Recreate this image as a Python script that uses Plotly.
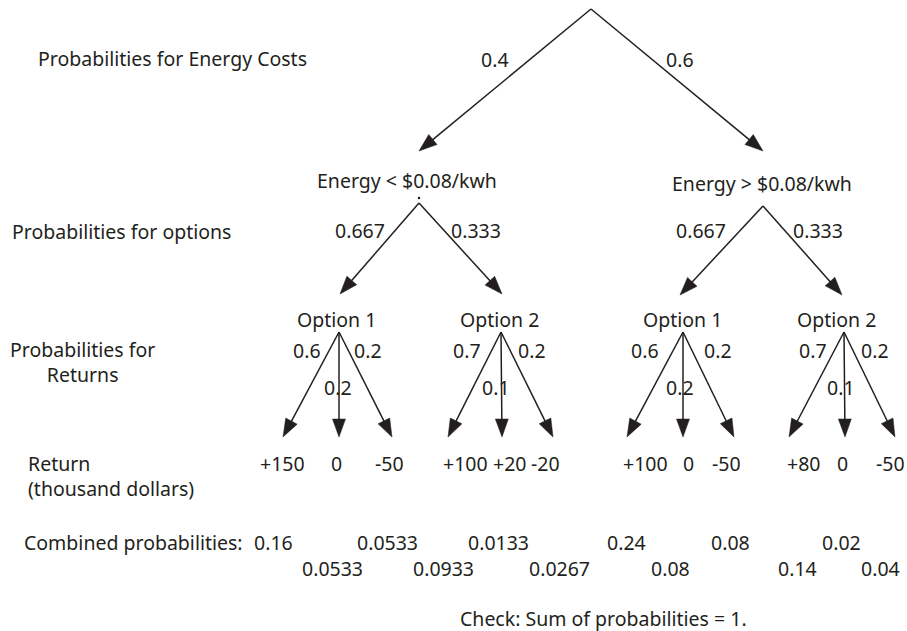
import numpy as np
import plotly.graph_objects as go

# ---------------- data ----------------
energy_labels = ["Energy < $0.08/kwh", "Energy > $0.08/kwh"]
energy_probs = ["0.4", "0.6"]
option_labels = ["Option 1", "Option 2"]
option_probs = ["0.667", "0.333"]
# per option node (left tree opt1, opt2, right tree opt1, opt2): [left, middle, right]
return_probs = [["0.6", "0.2", "0.2"], ["0.7", "0.1", "0.2"],
                ["0.6", "0.2", "0.2"], ["0.7", "0.1", "0.2"]]
returns = [["+150", "0", "-50"], ["+100", "+20", "-20"],
           ["+100", "0", "-50"], ["+80", "0", "-50"]]
combined_probs = ["0.16", "0.0533", "0.0533", "0.0933", "0.0133", "0.0267",
                  "0.24", "0.08", "0.08", "0.14", "0.02", "0.04"]
row_labels = ["Probabilities for Energy Costs", "Probabilities for options",
              "Probabilities for<br>Returns", "Return<br>(thousand dollars)",
              "Combined probabilities:"]
check_note = "Check: Sum of probabilities = 1."

# ---------------- layout (pixel space) ----------------
W, H = 907, 631
INK = "#231f20"
FONT = "Noto Sans"
FS = 19.5
LW = 1.5
HEAD_L, HEAD_W = 18.0, 13.0

ROOT = (591, 9)
L1_TIP = [(419, 151), (763, 151)]
L1_LABEL = [(407, 180), (762, 183)]
L1_PROB_POS = [(495, 59), (680, 59)]
L2_APEX = [(419, 203), (763, 206)]
L2_TIP = [[(340, 294), (502, 294)], [(680, 295), (842, 295)]]
L2_PROB_POS = [[(360, 230), (476, 230)], [(701, 230), (818, 230)]]
OPT_LABEL_POS = [(336, 319), (499, 319), (682, 319), (836, 319)]
OPT_APEX = [(339, 332), (501, 332), (683, 332), (844, 332)]
RET_TIP_X = [[283, 339, 392], [448, 502, 553], [627, 683, 734], [789, 845, 895]]
RET_TIP_Y = 437
RET_PROB_POS = [[(307, 350), (338, 387), (368, 350)],
                [(467, 350), (496, 387), (532, 350)],
                [(645, 350), (680, 387), (718, 350)],
                [(813, 350), (841, 387), (875, 350)]]
RET_LABEL_X = [[282, 336, 389], [465, 509, 545], [645, 688, 726], [803, 842, 890]]
RET_LABEL_Y = 463
COMB_X = [273, 332, 387, 443, 498, 559, 626, 670, 730, 797, 841, 880]
COMB_Y = [542, 568]
ROW_LABEL_POS = [(36, 58, "left"), (10, 231, "left"), (82, 362, "center"),
                 (26, 475.5, "left"), (22, 542, "left")]
CHECK_POS = (458, 618)

# ---------------- build edges ----------------
edges = []
for i in range(2):
    edges.append((ROOT, L1_TIP[i]))
    for j in range(2):
        edges.append((L2_APEX[i], L2_TIP[i][j]))
for k in range(4):
    for m in range(3):
        edges.append((OPT_APEX[k], (RET_TIP_X[k][m], RET_TIP_Y)))

lx, ly, hx, hy = [], [], [], []
for (x0, y0), (x1, y1) in edges:
    d = np.array([x1 - x0, y1 - y0], dtype=float)
    u = d / np.linalg.norm(d)
    n = np.array([-u[1], u[0]])
    base = np.array([x1, y1]) - HEAD_L * u
    lx += [x0, base[0] + 0.5 * u[0], None]
    ly += [y0, base[1] + 0.5 * u[1], None]
    c1 = base + n * HEAD_W / 2
    c2 = base - n * HEAD_W / 2
    hx += [x1, c1[0], c2[0], x1, None]
    hy += [y1, c1[1], c2[1], y1, None]

fig = go.Figure()
fig.add_trace(go.Scatter(x=lx, y=ly, mode="lines",
                         line=dict(color=INK, width=LW), hoverinfo="skip"))
fig.add_trace(go.Scatter(x=hx, y=hy, mode="lines", fill="toself", fillcolor=INK,
                         line=dict(color=INK, width=0.5), hoverinfo="skip"))
# small stray dot just above the left energy node (as in the source figure)
fig.add_trace(go.Scatter(x=[L2_APEX[0][0]], y=[L2_APEX[0][1] - 5], mode="markers",
                         marker=dict(color=INK, size=2.5), hoverinfo="skip"))

annotations = []


def txt(x, y, s, anchor="center", align="center"):
    annotations.append(dict(x=x, y=y, xref="x", yref="y", text=s, showarrow=False,
                            xanchor=anchor, yanchor="middle", align=align,
                            font=dict(family=FONT, size=FS, color=INK)))


for (x, y, a), s in zip(ROW_LABEL_POS, row_labels):
    txt(x, y, s, anchor=a, align=a)
for i in range(2):
    txt(*L1_PROB_POS[i], energy_probs[i])
    txt(*L1_LABEL[i], energy_labels[i])
    for j in range(2):
        txt(*L2_PROB_POS[i][j], option_probs[j])
for k in range(4):
    txt(*OPT_LABEL_POS[k], option_labels[k % 2])
    for m in range(3):
        txt(*RET_PROB_POS[k][m], return_probs[k][m])
        txt(RET_LABEL_X[k][m], RET_LABEL_Y, returns[k][m])
for idx, s in enumerate(combined_probs):
    txt(COMB_X[idx], COMB_Y[idx % 2], s)
txt(CHECK_POS[0], CHECK_POS[1], check_note, anchor="left", align="left")

fig.update_layout(
    width=W, height=H, margin=dict(l=0, r=0, t=0, b=0),
    paper_bgcolor="white", plot_bgcolor="white", showlegend=False,
    xaxis=dict(range=[0, W], visible=False, fixedrange=True),
    yaxis=dict(range=[H, 0], visible=False, fixedrange=True),
    annotations=annotations,
)
fig.write_html("out.html",
               config={"displayModeBar": False},
               post_script="document.body.style.margin='0px';"
                           "document.body.style.overflow='hidden';")
